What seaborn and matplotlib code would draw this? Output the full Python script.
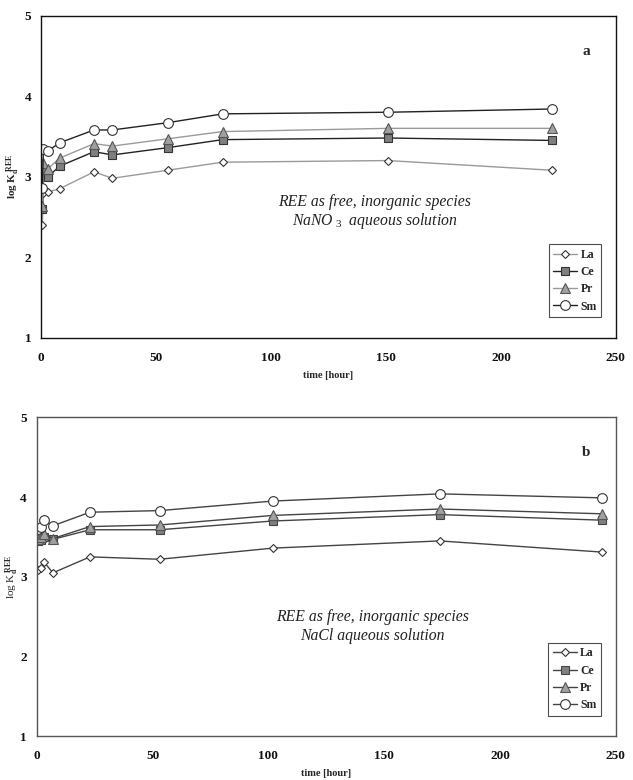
import numpy as np
import pandas as pd
import matplotlib.pyplot as plt
import seaborn as sns

sns.set_theme(style="white")
plt.rcParams['font.family'] = ['Liberation Serif', 'DejaVu Serif']
plt.rcParams['mathtext.fontset'] = 'custom'
plt.rcParams['mathtext.rm'] = 'Liberation Serif'
plt.rcParams['mathtext.it'] = 'Liberation Serif:italic'
plt.rcParams['mathtext.bf'] = 'Liberation Serif:bold'

elements = ['La', 'Ce', 'Pr', 'Sm']

# panel a: NaNO3
time_a = [0.5, 1, 3, 8, 23, 31, 55, 79, 151, 222]
la_a = [2.40, 2.80, 2.81, 2.85, 3.06, 2.98, 3.08, 3.18, 3.20, 3.08]
ce_a = [2.60, 3.10, 3.00, 3.13, 3.31, 3.27, 3.36, 3.46, 3.48, 3.45]
pr_a = [2.64, 3.17, 3.10, 3.23, 3.41, 3.38, 3.47, 3.56, 3.60, 3.60]
sm_a = [2.86, 3.34, 3.32, 3.42, 3.58, 3.58, 3.67, 3.78, 3.80, 3.84]

# panel b: NaCl
time_b = [0.5, 2, 3, 7, 23, 53, 102, 174, 244]
la_b = [3.08, 3.11, 3.19, 3.05, 3.25, 3.22, 3.36, 3.45, 3.31]
ce_b = [3.45, 3.46, 3.50, 3.47, 3.59, 3.59, 3.70, 3.78, 3.71]
pr_b = [3.47, 3.50, 3.54, 3.48, 3.63, 3.65, 3.77, 3.85, 3.79]
sm_b = [3.60, 3.63, 3.71, 3.64, 3.81, 3.83, 3.95, 4.04, 3.99]

def to_long(t, series):
    rows = []
    for name, vals in zip(elements, series):
        for x, y in zip(t, vals):
            rows.append({'time': x, 'logK': y, 'REE': name})
    return pd.DataFrame(rows)

df_a = to_long(time_a, [la_a, ce_a, pr_a, sm_a])
df_b = to_long(time_b, [la_b, ce_b, pr_b, sm_b])

style_a = {
    'La': dict(marker='D', ms=4.5, mfc='white', color='#9a9a9a', mec='#333333'),
    'Ce': dict(marker='s', ms=5.5, mfc='#7f7f7f', color='#222222', mec='#333333'),
    'Pr': dict(marker='^', ms=6.5, mfc='#a0a0a0', color='#9a9a9a', mec='#555555'),
    'Sm': dict(marker='o', ms=7, mfc='white', color='#222222', mec='#333333'),
}
style_b = {
    'La': dict(marker='D', ms=4.5, mfc='white', color='#444444', mec='#333333'),
    'Ce': dict(marker='s', ms=5.5, mfc='#7f7f7f', color='#444444', mec='#444444'),
    'Pr': dict(marker='^', ms=6.5, mfc='#a0a0a0', color='#444444', mec='#555555'),
    'Sm': dict(marker='o', ms=7, mfc='white', color='#444444', mec='#333333'),
}

fig = plt.figure(figsize=(6.33, 7.8), dpi=100)
ax_a = fig.add_axes([0.065, 0.567, 0.908, 0.413])
ax_b = fig.add_axes([0.058, 0.056, 0.915, 0.409])

panels = [
    (ax_a, df_a, style_a, 'a', r'NaNO$_{\ 3}$  aqueous solution', '#111111', 'bold', 0.42, 0.363, -0.048),
    (ax_b, df_b, style_b, 'b', 'NaCl aqueous solution', '#555555', 'normal', 0.373, 0.313, -0.043),
]

for ax, df, styles, letter, solution, spine_col, ylab_weight, y1, y2, lab_x in panels:
    for el in elements:
        st = styles[el]
        sns.lineplot(data=df[df['REE'] == el], x='time', y='logK', ax=ax,
                     label=el, color=st['color'], marker=st['marker'],
                     markersize=st['ms'], markerfacecolor=st['mfc'],
                     markeredgecolor=st['mec'], markeredgewidth=0.8,
                     linewidth=1.0)
    ax.set_xlim(0, 250)
    ax.set_ylim(1, 5)
    ax.set_xticks([0, 50, 100, 150, 200, 250])
    ax.set_yticks([1, 2, 3, 4, 5])
    ax.tick_params(axis='x', direction='out', length=4, width=0.8,
                   labelsize=9.5, colors='#111111', pad=6)
    ax.tick_params(axis='y', direction='out', length=4, width=0.8,
                   labelsize=9.5, colors='#111111', pad=3)
    for lab in ax.get_xticklabels() + ax.get_yticklabels():
        lab.set_fontweight('bold')
    for sp in ax.spines.values():
        sp.set_color(spine_col)
        sp.set_linewidth(1.0)
    ax.set_xlabel('time [hour]', fontsize=7.5, fontweight='bold', labelpad=5)
    ax.set_ylabel(r'log K$_{\mathbf{d}}^{\ \mathbf{REE}}$', fontsize=8,
                  fontweight=ylab_weight, va='center')
    ax.yaxis.set_label_coords(lab_x, 0.5)
    ax.text(0.955, 0.89, letter, transform=ax.transAxes, fontsize=11,
            fontweight='bold', ha='right', va='center')
    ax.text(0.58, y1, 'REE as free, inorganic species', transform=ax.transAxes,
            fontsize=11.3, style='italic', ha='center', va='center', color='#222222')
    ax.text(0.58, y2, solution, transform=ax.transAxes,
            fontsize=11.3, style='italic', ha='center', va='center', color='#222222')
    leg = ax.legend(loc='lower right', bbox_to_anchor=(0.985, 0.045),
                    frameon=True, fancybox=False,
                    handlelength=2.0, handletextpad=0.3, borderpad=0.4,
                    labelspacing=0.45, prop={'weight': 'bold', 'size': 8.5})
    leg.get_frame().set_edgecolor('#222222')
    leg.get_frame().set_linewidth(0.8)

fig.savefig('out.png', dpi=100)
